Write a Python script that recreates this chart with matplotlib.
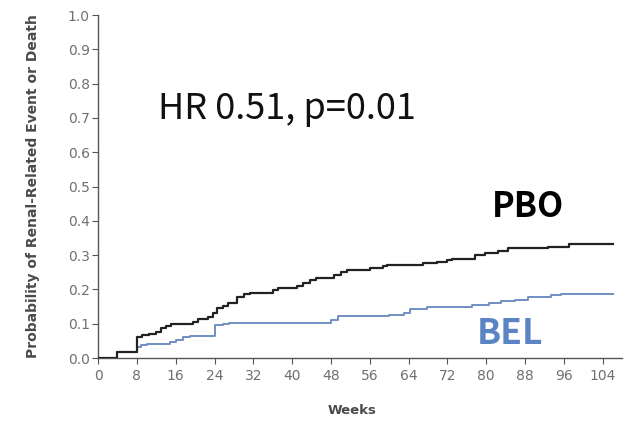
import matplotlib
matplotlib.use("Agg")
import matplotlib.pyplot as plt

# Kaplan-Meier style cumulative curves
pbo_weeks = [0, 3.9, 8.0, 9.0, 10.5, 12.0, 13.0, 14.0, 15.0, 19.6, 20.6, 22.7, 23.6,
             24.5, 25.8, 26.7, 28.6, 30.0, 31.4, 36.0, 37.0, 41.0, 42.3, 43.7, 45.0,
             48.6, 50.0, 51.4, 56.0, 58.8, 59.5, 67.0, 69.8, 71.9, 73.0, 77.6, 79.7,
             82.5, 84.5, 92.8, 97.0, 106.2]
pbo_prob = [0, 0.018, 0.062, 0.067, 0.071, 0.076, 0.087, 0.093, 0.098, 0.106, 0.114,
            0.12, 0.13, 0.146, 0.151, 0.16, 0.179, 0.187, 0.19, 0.198, 0.203, 0.21,
            0.218, 0.228, 0.233, 0.243, 0.25, 0.256, 0.262, 0.268, 0.271, 0.276, 0.28,
            0.287, 0.29, 0.30, 0.305, 0.313, 0.32, 0.325, 0.331, 0.331]

bel_weeks = [0, 3.9, 8.0, 8.8, 10.0, 14.8, 16.1, 17.5, 19.0, 24.1, 25.8, 27.0, 48.0,
             49.4, 60.0, 63.0, 64.3, 67.8, 71.0, 77.0, 80.5, 83.0, 86.0, 88.6, 93.4,
             95.5, 106.2]
bel_prob = [0, 0.018, 0.033, 0.038, 0.041, 0.046, 0.053, 0.06, 0.064, 0.096, 0.099,
            0.101, 0.11, 0.122, 0.126, 0.132, 0.142, 0.148, 0.15, 0.155, 0.16, 0.165,
            0.17, 0.177, 0.184, 0.186, 0.186]

x_ticks = list(range(0, 105, 8))
y_ticks = [i / 10 for i in range(11)]

fig = plt.figure(figsize=(6.41, 4.21), dpi=100)
ax = fig.add_axes([0.153, 0.1496, 0.8175, 0.8147])

ax.step(pbo_weeks, pbo_prob, where="post", color="#222222", lw=1.6, zorder=3)
ax.step(bel_weeks, bel_prob, where="post", color="#6f8fc2", lw=1.4, zorder=2)

ax.set_xlim(0, 108)
ax.set_ylim(0, 1.0)
ax.set_xticks(x_ticks)
ax.set_yticks(y_ticks)
ax.set_yticklabels([f"{v:.1f}" for v in y_ticks])

for s in ["top", "right"]:
    ax.spines[s].set_visible(False)
for s in ["left", "bottom"]:
    ax.spines[s].set_color("#555555")
    ax.spines[s].set_linewidth(1.0)
ax.spines["left"].set_bounds(0, 1.0)

ax.tick_params(axis="both", colors="#555555", labelcolor="#707070",
               labelsize=10, length=4, width=0.8, direction="out")
ax.tick_params(axis="x", pad=4)
ax.tick_params(axis="y", pad=2)

ax.set_xlabel("Weeks", fontsize=9.5, fontweight="bold", color="#4a4a4a",
              va="center")
ax.xaxis.set_label_coords(0.484, -0.153)
ax.set_ylabel("Probability of Renal-Related Event or Death", fontsize=10,
              fontweight="bold", color="#4a4a4a")
ax.yaxis.set_label_coords(-0.11, 0.5)

jp = ["Noto Sans CJK JP", "DejaVu Sans"]
ax.text(12.4, 0.696, "HR 0.51, p=0.01", fontsize=26, family=jp,
        color="#111111", va="baseline", ha="left")
ax.text(81.2, 0.41, "PBO", fontsize=24.5, family=jp, fontweight="bold",
        color="#000000", va="baseline", ha="left")
ax.text(78.1, 0.04, "BEL", fontsize=25.5, family=jp, fontweight="bold",
        color="#5b84c4", va="baseline", ha="left")

fig.savefig("out.png", dpi=100)
